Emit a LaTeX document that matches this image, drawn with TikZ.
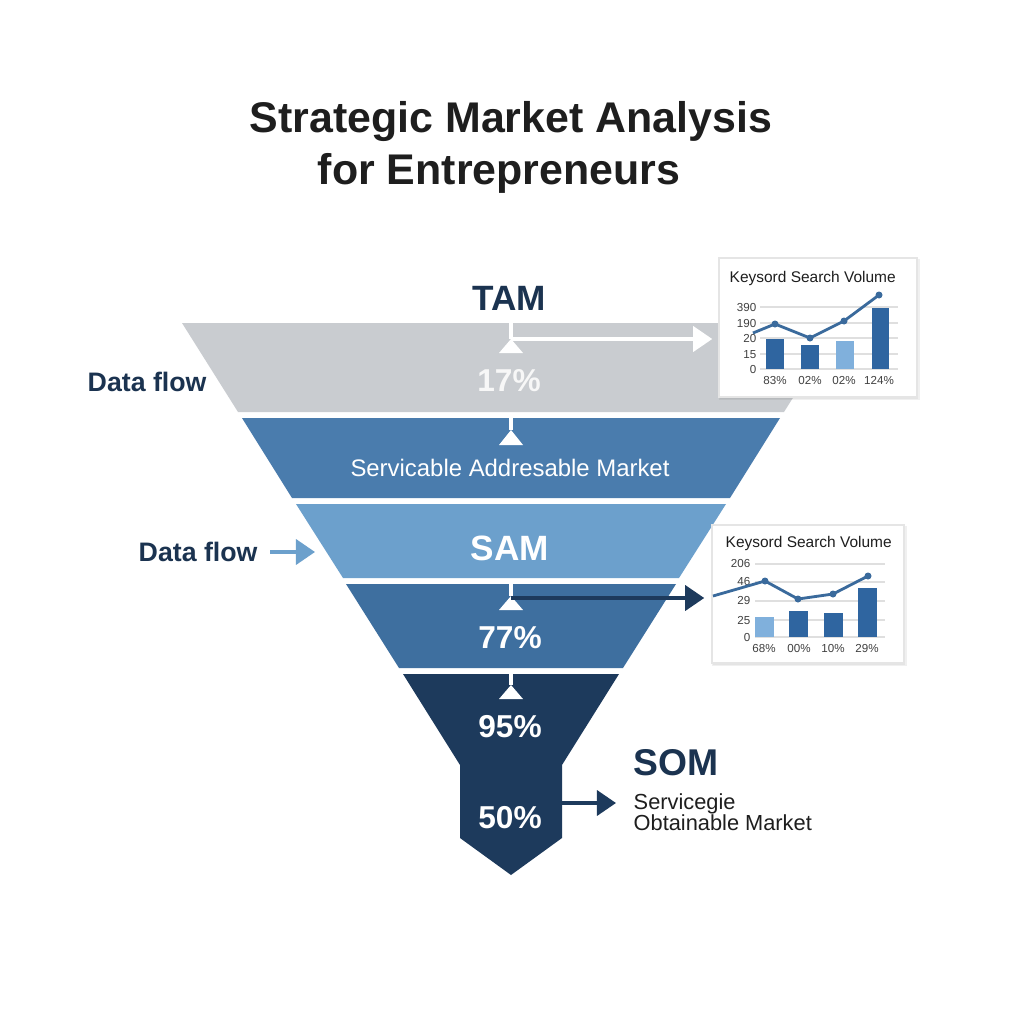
\documentclass[tikz,border=0pt]{standalone}
\usepackage{fontspec}
\setmainfont{Liberation Sans}
\usetikzlibrary{arrows.meta,shadows}

\definecolor{tamgray}{HTML}{C9CCD0}
\definecolor{addrblue}{HTML}{4A7CAD}
\definecolor{samblue}{HTML}{6CA0CC}
\definecolor{midblue}{HTML}{3E6F9F}
\definecolor{somnavy}{HTML}{1D3A5C}
\definecolor{inktext}{HTML}{1E1E1E}
\definecolor{navytext}{HTML}{1B3350}
\definecolor{bardark}{HTML}{2F65A0}
\definecolor{barlight}{HTML}{80B0DC}
\definecolor{trendblue}{HTML}{3A6A9C}

\tikzset{
  every node/.style={inner sep=0pt},
  title/.style={font=\bfseries\fontsize{12.2}{15}\selectfont, text=inktext},
  tier/.style={font=\bfseries\fontsize{10}{12}\selectfont},
  pct/.style={font=\bfseries\fontsize{9}{11}\selectfont, text=white},
  flowlbl/.style={font=\bfseries\fontsize{7.6}{9}\selectfont, text=navytext},
  somsub/.style={font=\fontsize{6.2}{7.5}\selectfont, text=inktext},
  flowline/.style={white, line width=1pt},
  flowarrow/.style={line width=1pt, -{Triangle[length=0.19cm,width=0.25cm]}},
  chartbox/.style={draw=gray!20, fill=white, line width=0.4pt,
    general shadow={shadow xshift=0.3pt, shadow yshift=-0.5pt, shadow scale=1.015,
      fill=black, opacity=0.06},
    drop shadow={shadow xshift=0.3pt, shadow yshift=-0.5pt, opacity=0.1}},
  charttitle/.style={font=\fontsize{4.4}{5}\selectfont, text=inktext},
  axislbl/.style={font=\fontsize{3.3}{4}\selectfont, text=black!75},
  gridline/.style={gray!25, line width=0.4pt},
  trendline/.style={trendblue, line width=0.8pt, line join=round}
}

\begin{document}
\begin{tikzpicture}[x=0.01cm, y=-0.01cm]

\useasboundingbox (0,0) rectangle (1024,1024);
\fill[white] (0,0) rectangle (1024,1024);

% title
\node[title, anchor=base] (titleA) at (511,132) {Strategic Market Analysis};
\node[title, anchor=base] (titleB) at (499,184) {for Entrepreneurs};

% funnel tiers
\fill[tamgray] (182,323) -- (840,323) -- (784,412) -- (238,412) -- cycle;
\fill[addrblue] (242,418) -- (780,418) -- (730,498) -- (292,498) -- cycle;
\fill[samblue] (296,504) -- (726,504) -- (679,578) -- (343,578) -- cycle;
\fill[midblue] (346,584) -- (676,584) -- (623,668) -- (399,668) -- cycle;
\fill[somnavy] (403,674) -- (619,674) -- (562,765) -- (562,838) --
  (511,875) -- (460,838) -- (460,765) -- cycle;

% flow marks
\coordinate (tamJ) at (511,339);
\coordinate (addrJ) at (511,430);
\coordinate (samJ) at (511,596);
\coordinate (somJ) at (511,685);
\draw[flowline] (511,323) -- (tamJ);
\fill[white] (tamJ) -- ++(12,14) -- ++(-24,0) -- cycle;
\draw[flowline] (511,418) -- (addrJ);
\fill[white] (addrJ) -- ++(12,15) -- ++(-24,0) -- cycle;
\draw[flowline] (511,584) -- (samJ);
\fill[white] (samJ) -- ++(12,14) -- ++(-24,0) -- cycle;
\draw[flowline] (511,674) -- (somJ);
\fill[white] (somJ) -- ++(12,14) -- ++(-24,0) -- cycle;

% tier labels
\node[tier, anchor=base, text=navytext] (tam) at (509,310) {TAM};
\node[pct, anchor=base, text=white!94!gray] (tamPct) at (509,391) {17\%};
\node[anchor=base, font=\fontsize{6.8}{8}\selectfont, text=white] (addr) at (510,476)
  {Servicable Addresable Market};
\node[tier, anchor=base, text=white] (sam) at (510,560) {SAM};
\node[pct, anchor=base] (samPct) at (510,648) {77\%};
\node[pct, anchor=base] (somPctA) at (510,737) {95\%};
\node[pct, anchor=base] (somPctB) at (510,828) {50\%};

% SOM legend
\node[tier, anchor=base west, text=navytext, font=\bfseries\fontsize{10.6}{12}\selectfont]
  (som) at (633,775) {SOM};
\node[somsub, anchor=base west] (somLineA) at (633,809) {Servicegie};
\node[somsub, anchor=base west] (somLineB) at (633,830) {Obtainable Market};
\coordinate (stemR) at (562,803);
\draw[flowarrow, somnavy, shorten >=0.17cm] (stemR) -- (stemR -| somLineA.west);

% data flow labels
\node[flowlbl, anchor=base west] (flowA) at (87,391) {Data flow};
\node[flowlbl, anchor=base west] (flowB) at (138,561) {Data flow};
\coordinate (samL) at (315,552);
\draw[flowarrow, samblue, shorten <=0.12cm] (flowB.east |- samL) -- (samL);

% chart A
\node[chartbox, minimum width=1.98cm, minimum height=1.39cm] (chartA) at (818,327.5) {};
\draw[flowarrow, white, shorten >=0.06cm] (tamJ) -- (tamJ -| chartA.west);
\node[charttitle, anchor=base west] (chartAtitle) at (729,282) {Keysord Search Volume};
\draw[gridline] (760,307) -- (898,307) (760,323) -- (898,323) (760,338) -- (898,338)
  (760,354) -- (898,354) (760,369) -- (898,369);
\node[axislbl, anchor=base east] (aY1) at (757,311) {390};
\node[axislbl, anchor=base east] (aY2) at (757,327) {190};
\node[axislbl, anchor=base east] (aY3) at (757,342) {20};
\node[axislbl, anchor=base east] (aY4) at (757,358) {15};
\node[axislbl, anchor=base east] (aY5) at (757,373) {0};
\fill[bardark] (766,339) rectangle (784,369);
\fill[bardark] (801,345) rectangle (819,369);
\fill[barlight] (836,341) rectangle (854,369);
\fill[bardark] (872,308) rectangle (889,369);
\draw[trendline] (753,333) -- (775,324) -- (810,338) -- (844,321) -- (879,295);
\fill[trendblue] (775,324) circle (3.5) (810,338) circle (3.5)
  (844,321) circle (3.5) (879,295) circle (3.5);
\node[axislbl, anchor=base] (aX1) at (775,384) {83\%};
\node[axislbl, anchor=base] (aX2) at (810,384) {02\%};
\node[axislbl, anchor=base] (aX3) at (844,384) {02\%};
\node[axislbl, anchor=base] (aX4) at (879,384) {124\%};

% chart B
\node[chartbox, minimum width=1.92cm, minimum height=1.38cm] (chartB) at (808,594) {};
\draw[flowarrow, somnavy, shorten >=0.07cm] (samJ |- 0,598) -- (chartB.west |- 0,598);
\node[charttitle, anchor=base west] (chartBtitle) at (725,547) {Keysord Search Volume};
\draw[gridline] (755,564) -- (885,564) (755,582) -- (885,582) (755,601) -- (885,601)
  (755,620) -- (885,620) (755,637) -- (885,637);
\node[axislbl, anchor=base east] (bY1) at (751,567) {206};
\node[axislbl, anchor=base east] (bY2) at (751,585) {46};
\node[axislbl, anchor=base east] (bY3) at (751,604) {29};
\node[axislbl, anchor=base east] (bY4) at (751,624) {25};
\node[axislbl, anchor=base east] (bY5) at (751,641) {0};
\fill[barlight] (755,617) rectangle (774,637);
\fill[bardark] (789,611) rectangle (808,637);
\fill[bardark] (824,613) rectangle (843,637);
\fill[bardark] (858,588) rectangle (877,637);
\draw[trendline] (713,596) -- (765,581) -- (798,599) -- (833,594) -- (868,576);
\fill[trendblue] (765,581) circle (3.5) (798,599) circle (3.5)
  (833,594) circle (3.5) (868,576) circle (3.5);
\node[axislbl, anchor=base] (bX1) at (764,652) {68\%};
\node[axislbl, anchor=base] (bX2) at (799,652) {00\%};
\node[axislbl, anchor=base] (bX3) at (833,652) {10\%};
\node[axislbl, anchor=base] (bX4) at (867,652) {29\%};

\end{tikzpicture}
\end{document}
